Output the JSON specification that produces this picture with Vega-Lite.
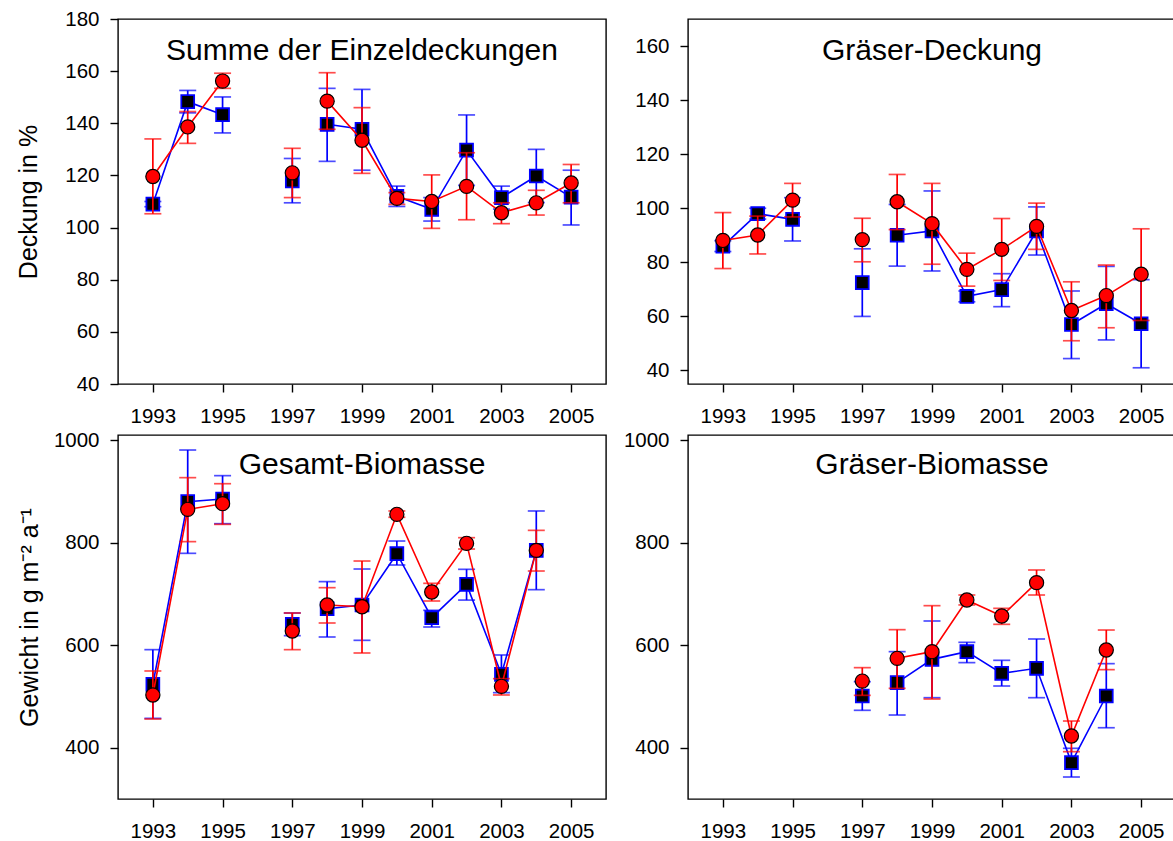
{
  "$schema": "https://vega.github.io/schema/vega-lite/v6.json",
  "background": "white",
  "padding": {"left": 16, "top": 8, "right": 0, "bottom": 0},
  "columns": 2,
  "spacing": {"row": 51, "column": 82},
  "bounds": "flush",
  "config": {
    "font": "Liberation Sans",
    "view": {"stroke": "#000000", "strokeWidth": 1.4},
    "axis": {"domain": false, "grid": false, "ticks": true, "tickSize": 8, "tickWidth": 1.4, "tickColor": "#000000", "labelFontSize": 20.5, "labelColor": "#000000", "labelFont": "Liberation Sans", "titleFont": "Liberation Sans", "titleFontSize": 25, "titleFontWeight": "normal", "titleColor": "#000000", "labelOverlap": false, "labelFlush": false, "labelBound": false, "format": "d"},
    "axisX": {"labelPadding": 14},
    "axisY": {"labelPadding": 11},
    "title": {"fontSize": 30, "fontWeight": "normal", "color": "#000000", "font": "Liberation Sans", "anchor": "middle", "frame": "group", "baseline": "alphabetic"}
  },
  "datasets": {
    "d": [
      {"p": "p1", "s": "A", "g": 1, "year": 1993, "val": 109, "lo": 108, "hi": 110},
      {"p": "p1", "s": "A", "g": 1, "year": 1994, "val": 148.3, "lo": 144, "hi": 152.6},
      {"p": "p1", "s": "A", "g": 1, "year": 1995, "val": 143.3, "lo": 136.3, "hi": 150.1},
      {"p": "p1", "s": "A", "g": 2, "year": 1997, "val": 117.9, "lo": 109.5, "hi": 126.5},
      {"p": "p1", "s": "A", "g": 3, "year": 1998, "val": 139.6, "lo": 125.4, "hi": 153.4},
      {"p": "p1", "s": "A", "g": 3, "year": 1999, "val": 137.7, "lo": 122, "hi": 153},
      {"p": "p1", "s": "A", "g": 3, "year": 2000, "val": 112, "lo": 108.1, "hi": 115.9},
      {"p": "p1", "s": "A", "g": 3, "year": 2001, "val": 107, "lo": 102.5, "hi": 111.5},
      {"p": "p1", "s": "A", "g": 3, "year": 2002, "val": 129.7, "lo": 116.2, "hi": 143.2},
      {"p": "p1", "s": "A", "g": 3, "year": 2003, "val": 111.5, "lo": 107.1, "hi": 115.9},
      {"p": "p1", "s": "A", "g": 3, "year": 2004, "val": 119.8, "lo": 109.6, "hi": 130},
      {"p": "p1", "s": "A", "g": 3, "year": 2005, "val": 111.7, "lo": 101, "hi": 122},
      {"p": "p1", "s": "B", "g": 1, "year": 1993, "val": 119.6, "lo": 105.3, "hi": 134},
      {"p": "p1", "s": "B", "g": 1, "year": 1994, "val": 138.6, "lo": 132.3, "hi": 144.5},
      {"p": "p1", "s": "B", "g": 1, "year": 1995, "val": 156.2, "lo": 153.4, "hi": 159.2},
      {"p": "p1", "s": "B", "g": 2, "year": 1997, "val": 121, "lo": 111.5, "hi": 130.4},
      {"p": "p1", "s": "B", "g": 3, "year": 1998, "val": 148.5, "lo": 137.7, "hi": 159.4},
      {"p": "p1", "s": "B", "g": 3, "year": 1999, "val": 133.5, "lo": 120.8, "hi": 146},
      {"p": "p1", "s": "B", "g": 3, "year": 2000, "val": 111.2, "lo": 108.9, "hi": 113.4},
      {"p": "p1", "s": "B", "g": 3, "year": 2001, "val": 110, "lo": 99.7, "hi": 120.2},
      {"p": "p1", "s": "B", "g": 3, "year": 2002, "val": 115.8, "lo": 103, "hi": 128.7},
      {"p": "p1", "s": "B", "g": 3, "year": 2003, "val": 105.7, "lo": 101.5, "hi": 109.5},
      {"p": "p1", "s": "B", "g": 3, "year": 2004, "val": 109.5, "lo": 104.8, "hi": 114.3},
      {"p": "p1", "s": "B", "g": 3, "year": 2005, "val": 117.1, "lo": 109.5, "hi": 124.2},

      {"p": "p2", "s": "A", "g": 1, "year": 1993, "val": 86, "lo": 84, "hi": 88},
      {"p": "p2", "s": "A", "g": 1, "year": 1994, "val": 98, "lo": 96, "hi": 100},
      {"p": "p2", "s": "A", "g": 1, "year": 1995, "val": 95.9, "lo": 87.9, "hi": 103.9},
      {"p": "p2", "s": "A", "g": 2, "year": 1997, "val": 72.5, "lo": 60, "hi": 85},
      {"p": "p2", "s": "A", "g": 3, "year": 1998, "val": 90, "lo": 78.6, "hi": 101.4},
      {"p": "p2", "s": "A", "g": 3, "year": 1999, "val": 91.6, "lo": 76.8, "hi": 106.4},
      {"p": "p2", "s": "A", "g": 3, "year": 2000, "val": 67.4, "lo": 65.4, "hi": 69.4},
      {"p": "p2", "s": "A", "g": 3, "year": 2001, "val": 69.9, "lo": 63.6, "hi": 75.8},
      {"p": "p2", "s": "A", "g": 3, "year": 2002, "val": 91.6, "lo": 82.7, "hi": 100.5},
      {"p": "p2", "s": "A", "g": 3, "year": 2003, "val": 57, "lo": 44.4, "hi": 69.4},
      {"p": "p2", "s": "A", "g": 3, "year": 2004, "val": 64.7, "lo": 51.3, "hi": 78.5},
      {"p": "p2", "s": "A", "g": 3, "year": 2005, "val": 57.3, "lo": 41, "hi": 73.6},
      {"p": "p2", "s": "B", "g": 1, "year": 1993, "val": 88.1, "lo": 77.7, "hi": 98.4},
      {"p": "p2", "s": "B", "g": 1, "year": 1994, "val": 90.1, "lo": 83.1, "hi": 97.1},
      {"p": "p2", "s": "B", "g": 1, "year": 1995, "val": 103, "lo": 96.8, "hi": 109.2},
      {"p": "p2", "s": "B", "g": 2, "year": 1997, "val": 88.4, "lo": 80.2, "hi": 96.3},
      {"p": "p2", "s": "B", "g": 3, "year": 1998, "val": 102.4, "lo": 92.1, "hi": 112.5},
      {"p": "p2", "s": "B", "g": 3, "year": 1999, "val": 94.3, "lo": 79.3, "hi": 109.2},
      {"p": "p2", "s": "B", "g": 3, "year": 2000, "val": 77.4, "lo": 71.2, "hi": 83.4},
      {"p": "p2", "s": "B", "g": 3, "year": 2001, "val": 84.8, "lo": 73.3, "hi": 96.2},
      {"p": "p2", "s": "B", "g": 3, "year": 2002, "val": 93.3, "lo": 84.8, "hi": 101.9},
      {"p": "p2", "s": "B", "g": 3, "year": 2003, "val": 62.2, "lo": 51, "hi": 72.8},
      {"p": "p2", "s": "B", "g": 3, "year": 2004, "val": 67.7, "lo": 55.8, "hi": 79},
      {"p": "p2", "s": "B", "g": 3, "year": 2005, "val": 75.6, "lo": 58.5, "hi": 92.4},

      {"p": "p3", "s": "A", "g": 1, "year": 1993, "val": 523.7, "lo": 457.3, "hi": 591.3},
      {"p": "p3", "s": "A", "g": 1, "year": 1994, "val": 880, "lo": 779.2, "hi": 980.7},
      {"p": "p3", "s": "A", "g": 1, "year": 1995, "val": 885.2, "lo": 837, "hi": 930.7},
      {"p": "p3", "s": "A", "g": 2, "year": 1997, "val": 640.7, "lo": 618.6, "hi": 662.8},
      {"p": "p3", "s": "A", "g": 3, "year": 1998, "val": 671, "lo": 616, "hi": 724},
      {"p": "p3", "s": "A", "g": 3, "year": 1999, "val": 678.4, "lo": 609.5, "hi": 748.6},
      {"p": "p3", "s": "A", "g": 3, "year": 2000, "val": 778.5, "lo": 756.4, "hi": 803.2},
      {"p": "p3", "s": "A", "g": 3, "year": 2001, "val": 653.7, "lo": 635.5, "hi": 668},
      {"p": "p3", "s": "A", "g": 3, "year": 2002, "val": 718.7, "lo": 688, "hi": 748},
      {"p": "p3", "s": "A", "g": 3, "year": 2003, "val": 543.2, "lo": 507.4, "hi": 580.9},
      {"p": "p3", "s": "A", "g": 3, "year": 2004, "val": 785, "lo": 708.3, "hi": 861.8},
      {"p": "p3", "s": "B", "g": 1, "year": 1993, "val": 502.9, "lo": 456, "hi": 549.7},
      {"p": "p3", "s": "B", "g": 1, "year": 1994, "val": 865, "lo": 802, "hi": 926.8},
      {"p": "p3", "s": "B", "g": 1, "year": 1995, "val": 876, "lo": 835.7, "hi": 915},
      {"p": "p3", "s": "B", "g": 2, "year": 1997, "val": 627.7, "lo": 591.3, "hi": 662.8},
      {"p": "p3", "s": "B", "g": 3, "year": 1998, "val": 678.4, "lo": 643.3, "hi": 712.2},
      {"p": "p3", "s": "B", "g": 3, "year": 1999, "val": 675, "lo": 584.8, "hi": 764.2},
      {"p": "p3", "s": "B", "g": 3, "year": 2000, "val": 855.3, "lo": 849.5, "hi": 861.8},
      {"p": "p3", "s": "B", "g": 3, "year": 2001, "val": 703.8, "lo": 686.2, "hi": 720.7},
      {"p": "p3", "s": "B", "g": 3, "year": 2002, "val": 798.7, "lo": 787.6, "hi": 809.7},
      {"p": "p3", "s": "B", "g": 3, "year": 2003, "val": 519.8, "lo": 502.9, "hi": 534.7},
      {"p": "p3", "s": "B", "g": 3, "year": 2004, "val": 785, "lo": 744.7, "hi": 824},

      {"p": "p4", "s": "A", "g": 2, "year": 1997, "val": 500.9, "lo": 473, "hi": 528.8},
      {"p": "p4", "s": "A", "g": 3, "year": 1998, "val": 527, "lo": 463.8, "hi": 587.4},
      {"p": "p4", "s": "A", "g": 3, "year": 1999, "val": 572.4, "lo": 497.6, "hi": 647.2},
      {"p": "p4", "s": "A", "g": 3, "year": 2000, "val": 587.4, "lo": 566, "hi": 605.6},
      {"p": "p4", "s": "A", "g": 3, "year": 2001, "val": 545.1, "lo": 520.4, "hi": 570.5},
      {"p": "p4", "s": "A", "g": 3, "year": 2002, "val": 554.9, "lo": 497.6, "hi": 612.1},
      {"p": "p4", "s": "A", "g": 3, "year": 2003, "val": 370.9, "lo": 342.9, "hi": 398.9},
      {"p": "p4", "s": "A", "g": 3, "year": 2004, "val": 500.9, "lo": 439, "hi": 564},
      {"p": "p4", "s": "B", "g": 2, "year": 1997, "val": 530, "lo": 502.2, "hi": 556.2},
      {"p": "p4", "s": "B", "g": 3, "year": 1998, "val": 574.4, "lo": 515.9, "hi": 630.3},
      {"p": "p4", "s": "B", "g": 3, "year": 1999, "val": 587.4, "lo": 495, "hi": 677.1},
      {"p": "p4", "s": "B", "g": 3, "year": 2000, "val": 688.2, "lo": 678.5, "hi": 697.9},
      {"p": "p4", "s": "B", "g": 3, "year": 2001, "val": 657, "lo": 640.7, "hi": 671.9},
      {"p": "p4", "s": "B", "g": 3, "year": 2002, "val": 722, "lo": 697.9, "hi": 746.7},
      {"p": "p4", "s": "B", "g": 3, "year": 2003, "val": 422.9, "lo": 392.3, "hi": 452.1},
      {"p": "p4", "s": "B", "g": 3, "year": 2004, "val": 590.6, "lo": 552.3, "hi": 629.6}
    ]
  },
  "concat": [
    {
      "width": 488, "height": 365,
      "title": {"text": "Summe der Einzeldeckungen", "offset": -56.5},
      "data": {"name": "d"},
      "transform": [{"filter": "datum.p == 'p1'"}],
      "encoding": {"x": {"field": "year", "type": "quantitative", "scale": {"domain": [1992, 2006], "nice": false, "zero": false}, "axis": {"values": [1993, 1995, 1997, 1999, 2001, 2003, 2005], "format": "d", "title": null}}},
      "layer": [
        {"transform": [{"filter": "datum.s == 'A'"}], "mark": {"type": "errorbar", "orient": "vertical", "color": "#0000ff", "thickness": 1.7, "rule": {"strokeWidth": 1.7}, "ticks": {"size": 17, "thickness": 1.7}}, "encoding": {"y": {"field": "lo", "type": "quantitative", "scale": {"domain": [40, 180], "nice": false, "zero": false}, "axis": {"values": [40, 60, 80, 100, 120, 140, 160, 180], "title": "Deckung in %", "titlePadding": 23}}, "y2": {"field": "hi"}}},
        {"transform": [{"filter": "datum.s == 'A'"}], "mark": {"type": "line", "color": "#0000ff", "strokeWidth": 1.6}, "encoding": {"y": {"field": "val", "type": "quantitative", "scale": {"domain": [40, 180], "nice": false, "zero": false}, "axis": {"values": [40, 60, 80, 100, 120, 140, 160, 180], "title": "Deckung in %", "titlePadding": 23}}, "detail": {"field": "g"}}},
        {"transform": [{"filter": "datum.s == 'A'"}], "mark": {"type": "point", "shape": "square", "filled": true, "fill": "#000000", "stroke": "#0000ff", "strokeWidth": 1.8, "size": 165, "opacity": 1}, "encoding": {"y": {"field": "val", "type": "quantitative", "scale": {"domain": [40, 180], "nice": false, "zero": false}, "axis": {"values": [40, 60, 80, 100, 120, 140, 160, 180], "title": "Deckung in %", "titlePadding": 23}}}},
        {"transform": [{"filter": "datum.s == 'B'"}], "mark": {"type": "errorbar", "orient": "vertical", "color": "#ff0000", "thickness": 1.7, "rule": {"strokeWidth": 1.7}, "ticks": {"size": 17, "thickness": 1.7}}, "encoding": {"y": {"field": "lo", "type": "quantitative", "scale": {"domain": [40, 180], "nice": false, "zero": false}, "axis": {"values": [40, 60, 80, 100, 120, 140, 160, 180], "title": "Deckung in %", "titlePadding": 23}}, "y2": {"field": "hi"}}},
        {"transform": [{"filter": "datum.s == 'B'"}], "mark": {"type": "line", "color": "#ff0000", "strokeWidth": 1.6}, "encoding": {"y": {"field": "val", "type": "quantitative", "scale": {"domain": [40, 180], "nice": false, "zero": false}, "axis": {"values": [40, 60, 80, 100, 120, 140, 160, 180], "title": "Deckung in %", "titlePadding": 23}}, "detail": {"field": "g"}}},
        {"transform": [{"filter": "datum.s == 'B'"}], "mark": {"type": "point", "shape": "circle", "filled": true, "fill": "#ff0000", "stroke": "#000000", "strokeWidth": 1.2, "size": 200, "opacity": 1}, "encoding": {"y": {"field": "val", "type": "quantitative", "scale": {"domain": [40, 180], "nice": false, "zero": false}, "axis": {"values": [40, 60, 80, 100, 120, 140, 160, 180], "title": "Deckung in %", "titlePadding": 23}}}}
      ]
    },
    {
      "width": 488, "height": 365,
      "title": {"text": "Gräser-Deckung", "offset": -47},
      "data": {"name": "d"},
      "transform": [{"filter": "datum.p == 'p2'"}],
      "encoding": {"x": {"field": "year", "type": "quantitative", "scale": {"domain": [1992, 2006], "nice": false, "zero": false}, "axis": {"values": [1993, 1995, 1997, 1999, 2001, 2003, 2005], "format": "d", "title": null}}},
      "layer": [
        {"transform": [{"filter": "datum.s == 'A'"}], "mark": {"type": "errorbar", "orient": "vertical", "color": "#0000ff", "thickness": 1.7, "rule": {"strokeWidth": 1.7}, "ticks": {"size": 17, "thickness": 1.7}}, "encoding": {"y": {"field": "lo", "type": "quantitative", "scale": {"domain": [35, 170], "nice": false, "zero": false}, "axis": {"values": [40, 60, 80, 100, 120, 140, 160], "title": null}}, "y2": {"field": "hi"}}},
        {"transform": [{"filter": "datum.s == 'A'"}], "mark": {"type": "line", "color": "#0000ff", "strokeWidth": 1.6}, "encoding": {"y": {"field": "val", "type": "quantitative", "scale": {"domain": [35, 170], "nice": false, "zero": false}, "axis": {"values": [40, 60, 80, 100, 120, 140, 160], "title": null}}, "detail": {"field": "g"}}},
        {"transform": [{"filter": "datum.s == 'A'"}], "mark": {"type": "point", "shape": "square", "filled": true, "fill": "#000000", "stroke": "#0000ff", "strokeWidth": 1.8, "size": 165, "opacity": 1}, "encoding": {"y": {"field": "val", "type": "quantitative", "scale": {"domain": [35, 170], "nice": false, "zero": false}, "axis": {"values": [40, 60, 80, 100, 120, 140, 160], "title": null}}}},
        {"transform": [{"filter": "datum.s == 'B'"}], "mark": {"type": "errorbar", "orient": "vertical", "color": "#ff0000", "thickness": 1.7, "rule": {"strokeWidth": 1.7}, "ticks": {"size": 17, "thickness": 1.7}}, "encoding": {"y": {"field": "lo", "type": "quantitative", "scale": {"domain": [35, 170], "nice": false, "zero": false}, "axis": {"values": [40, 60, 80, 100, 120, 140, 160], "title": null}}, "y2": {"field": "hi"}}},
        {"transform": [{"filter": "datum.s == 'B'"}], "mark": {"type": "line", "color": "#ff0000", "strokeWidth": 1.6}, "encoding": {"y": {"field": "val", "type": "quantitative", "scale": {"domain": [35, 170], "nice": false, "zero": false}, "axis": {"values": [40, 60, 80, 100, 120, 140, 160], "title": null}}, "detail": {"field": "g"}}},
        {"transform": [{"filter": "datum.s == 'B'"}], "mark": {"type": "point", "shape": "circle", "filled": true, "fill": "#ff0000", "stroke": "#000000", "strokeWidth": 1.2, "size": 200, "opacity": 1}, "encoding": {"y": {"field": "val", "type": "quantitative", "scale": {"domain": [35, 170], "nice": false, "zero": false}, "axis": {"values": [40, 60, 80, 100, 120, 140, 160], "title": null}}}}
      ]
    },
    {
      "width": 488, "height": 364,
      "title": {"text": "Gesamt-Biomasse", "offset": -50},
      "data": {"name": "d"},
      "transform": [{"filter": "datum.p == 'p3'"}],
      "encoding": {"x": {"field": "year", "type": "quantitative", "scale": {"domain": [1992, 2006], "nice": false, "zero": false}, "axis": {"values": [1993, 1995, 1997, 1999, 2001, 2003, 2005], "format": "d", "title": null}}},
      "layer": [
        {"transform": [{"filter": "datum.s == 'A'"}], "mark": {"type": "errorbar", "orient": "vertical", "color": "#0000ff", "thickness": 1.7, "rule": {"strokeWidth": 1.7}, "ticks": {"size": 17, "thickness": 1.7}}, "encoding": {"y": {"field": "lo", "type": "quantitative", "scale": {"domain": [300, 1010], "nice": false, "zero": false}, "axis": {"values": [400, 600, 800, 1000], "format": "d", "title": "Gewicht in g  m⁻² a⁻¹", "titlePadding": 11}}, "y2": {"field": "hi"}}},
        {"transform": [{"filter": "datum.s == 'A'"}], "mark": {"type": "line", "color": "#0000ff", "strokeWidth": 1.6}, "encoding": {"y": {"field": "val", "type": "quantitative", "scale": {"domain": [300, 1010], "nice": false, "zero": false}, "axis": {"values": [400, 600, 800, 1000], "format": "d", "title": "Gewicht in g  m⁻² a⁻¹", "titlePadding": 11}}, "detail": {"field": "g"}}},
        {"transform": [{"filter": "datum.s == 'A'"}], "mark": {"type": "point", "shape": "square", "filled": true, "fill": "#000000", "stroke": "#0000ff", "strokeWidth": 1.8, "size": 165, "opacity": 1}, "encoding": {"y": {"field": "val", "type": "quantitative", "scale": {"domain": [300, 1010], "nice": false, "zero": false}, "axis": {"values": [400, 600, 800, 1000], "format": "d", "title": "Gewicht in g  m⁻² a⁻¹", "titlePadding": 11}}}},
        {"transform": [{"filter": "datum.s == 'B'"}], "mark": {"type": "errorbar", "orient": "vertical", "color": "#ff0000", "thickness": 1.7, "rule": {"strokeWidth": 1.7}, "ticks": {"size": 17, "thickness": 1.7}}, "encoding": {"y": {"field": "lo", "type": "quantitative", "scale": {"domain": [300, 1010], "nice": false, "zero": false}, "axis": {"values": [400, 600, 800, 1000], "format": "d", "title": "Gewicht in g  m⁻² a⁻¹", "titlePadding": 11}}, "y2": {"field": "hi"}}},
        {"transform": [{"filter": "datum.s == 'B'"}], "mark": {"type": "line", "color": "#ff0000", "strokeWidth": 1.6}, "encoding": {"y": {"field": "val", "type": "quantitative", "scale": {"domain": [300, 1010], "nice": false, "zero": false}, "axis": {"values": [400, 600, 800, 1000], "format": "d", "title": "Gewicht in g  m⁻² a⁻¹", "titlePadding": 11}}, "detail": {"field": "g"}}},
        {"transform": [{"filter": "datum.s == 'B'"}], "mark": {"type": "point", "shape": "circle", "filled": true, "fill": "#ff0000", "stroke": "#000000", "strokeWidth": 1.2, "size": 200, "opacity": 1}, "encoding": {"y": {"field": "val", "type": "quantitative", "scale": {"domain": [300, 1010], "nice": false, "zero": false}, "axis": {"values": [400, 600, 800, 1000], "format": "d", "title": "Gewicht in g  m⁻² a⁻¹", "titlePadding": 11}}}}
      ]
    },
    {
      "width": 488, "height": 364,
      "title": {"text": "Gräser-Biomasse", "offset": -50},
      "data": {"name": "d"},
      "transform": [{"filter": "datum.p == 'p4'"}],
      "encoding": {"x": {"field": "year", "type": "quantitative", "scale": {"domain": [1992, 2006], "nice": false, "zero": false}, "axis": {"values": [1993, 1995, 1997, 1999, 2001, 2003, 2005], "format": "d", "title": null}}},
      "layer": [
        {"transform": [{"filter": "datum.s == 'A'"}], "mark": {"type": "errorbar", "orient": "vertical", "color": "#0000ff", "thickness": 1.7, "rule": {"strokeWidth": 1.7}, "ticks": {"size": 17, "thickness": 1.7}}, "encoding": {"y": {"field": "lo", "type": "quantitative", "scale": {"domain": [300, 1010], "nice": false, "zero": false}, "axis": {"values": [400, 600, 800, 1000], "format": "d", "title": null}}, "y2": {"field": "hi"}}},
        {"transform": [{"filter": "datum.s == 'A'"}], "mark": {"type": "line", "color": "#0000ff", "strokeWidth": 1.6}, "encoding": {"y": {"field": "val", "type": "quantitative", "scale": {"domain": [300, 1010], "nice": false, "zero": false}, "axis": {"values": [400, 600, 800, 1000], "format": "d", "title": null}}, "detail": {"field": "g"}}},
        {"transform": [{"filter": "datum.s == 'A'"}], "mark": {"type": "point", "shape": "square", "filled": true, "fill": "#000000", "stroke": "#0000ff", "strokeWidth": 1.8, "size": 165, "opacity": 1}, "encoding": {"y": {"field": "val", "type": "quantitative", "scale": {"domain": [300, 1010], "nice": false, "zero": false}, "axis": {"values": [400, 600, 800, 1000], "format": "d", "title": null}}}},
        {"transform": [{"filter": "datum.s == 'B'"}], "mark": {"type": "errorbar", "orient": "vertical", "color": "#ff0000", "thickness": 1.7, "rule": {"strokeWidth": 1.7}, "ticks": {"size": 17, "thickness": 1.7}}, "encoding": {"y": {"field": "lo", "type": "quantitative", "scale": {"domain": [300, 1010], "nice": false, "zero": false}, "axis": {"values": [400, 600, 800, 1000], "format": "d", "title": null}}, "y2": {"field": "hi"}}},
        {"transform": [{"filter": "datum.s == 'B'"}], "mark": {"type": "line", "color": "#ff0000", "strokeWidth": 1.6}, "encoding": {"y": {"field": "val", "type": "quantitative", "scale": {"domain": [300, 1010], "nice": false, "zero": false}, "axis": {"values": [400, 600, 800, 1000], "format": "d", "title": null}}, "detail": {"field": "g"}}},
        {"transform": [{"filter": "datum.s == 'B'"}], "mark": {"type": "point", "shape": "circle", "filled": true, "fill": "#ff0000", "stroke": "#000000", "strokeWidth": 1.2, "size": 200, "opacity": 1}, "encoding": {"y": {"field": "val", "type": "quantitative", "scale": {"domain": [300, 1010], "nice": false, "zero": false}, "axis": {"values": [400, 600, 800, 1000], "format": "d", "title": null}}}}
      ]
    }
  ]
}
